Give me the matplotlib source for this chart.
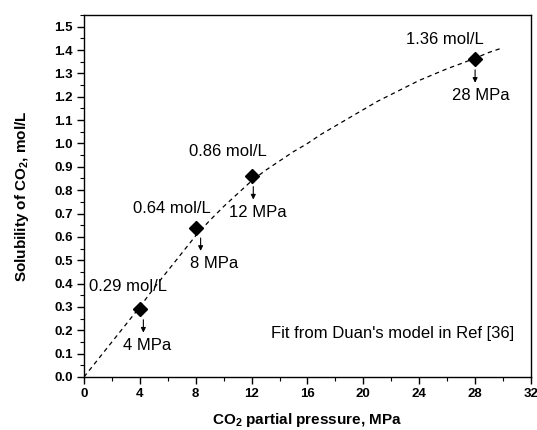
import matplotlib
matplotlib.use("Agg")
import matplotlib.pyplot as plt
from matplotlib.ticker import MultipleLocator

plt.rcParams['font.family'] = ['Liberation Sans', 'DejaVu Sans']
plt.rcParams['mathtext.fontset'] = 'custom'
plt.rcParams['mathtext.rm'] = 'Liberation Sans'
plt.rcParams['mathtext.bf'] = 'Liberation Sans:bold'
plt.rcParams['mathtext.default'] = 'bf'

# measured points
pressure = [4, 8, 12, 28]
solubility = [0.29, 0.64, 0.86, 1.36]
sol_labels = ["0.29 mol/L", "0.64 mol/L", "0.86 mol/L", "1.36 mol/L"]
p_labels = ["4 MPa", "8 MPa", "12 MPa", "28 MPa"]

# fit curve (Duan's model)
fit_p = [0, 1, 2, 3, 4, 5, 6, 7, 8, 9, 10, 11, 12, 13, 14, 15, 16, 17, 18, 19, 20,
         21, 22, 23, 24, 25, 26, 27, 28, 29, 30]
fit_s = [0.0, 0.075, 0.15, 0.225, 0.30, 0.38, 0.455, 0.53, 0.605, 0.67, 0.73, 0.785,
         0.84, 0.885, 0.925, 0.965, 1.0, 1.04, 1.075, 1.11, 1.145, 1.18, 1.21, 1.24,
         1.27, 1.295, 1.32, 1.342, 1.365, 1.39, 1.41]

fig = plt.figure(figsize=(5.37, 4.30), dpi=100)
ax = fig.add_axes([0.1564, 0.1233, 0.8324, 0.8418])

ax.plot(fit_p, fit_s, linestyle=(0, (3.5, 3)), color='black', linewidth=0.9)
ax.plot(pressure, solubility, linestyle='none', marker='D', markersize=7.5,
        color='black')

# offsets for annotations (data units)
mol_dx = [-0.85, -1.73, -1.67, -2.16]
mol_dy = [0.096, 0.083, 0.106, 0.084]
arr_dx = [0.25, 0.35, 0.12, 0.0]
mpa_dx = [0.49, 1.31, 0.45, 0.44]

for x, y, sl, pl, mdx, mdy, adx, pdx in zip(pressure, solubility, sol_labels, p_labels,
                                             mol_dx, mol_dy, arr_dx, mpa_dx):
    ax.text(x + mdx, y + mdy, sl, ha='center', va='center', fontsize=12)
    ax.annotate('', xy=(x + adx, y - 0.10), xytext=(x + adx, y - 0.045),
                arrowprops=dict(arrowstyle='-|>', color='black', lw=0.8,
                                mutation_scale=7, shrinkA=0, shrinkB=0))
    ax.text(x + pdx, y - 0.155, pl, ha='center', va='center', fontsize=12)

ax.text(22.1, 0.187, "Fit from Duan's model in Ref [36]", ha='center', va='center',
        fontsize=12)

ax.set_xlim(0, 32)
ax.set_ylim(0, 1.55)
ax.xaxis.set_major_locator(MultipleLocator(4))
ax.xaxis.set_minor_locator(MultipleLocator(2))
ax.yaxis.set_minor_locator(MultipleLocator(0.05))
ax.set_yticks([i / 10 for i in range(16)])
ax.set_yticklabels([f"{i/10:.1f}" for i in range(16)])
ax.tick_params(which='major', direction='out', length=5, width=1, labelsize=9.5, pad=3)
ax.tick_params(which='minor', direction='out', length=3, width=0.8)
for lbl in ax.get_xticklabels() + ax.get_yticklabels():
    lbl.set_fontweight('bold')
for s in ax.spines.values():
    s.set_linewidth(1.0)

ax.set_xlabel("CO$_2$ partial pressure, MPa", fontsize=11, fontweight='bold', labelpad=8)
ax.set_ylabel("Solubility of CO$_2$, mol/L", fontsize=11, fontweight='bold', labelpad=17)

fig.savefig("out.png", dpi=100)
